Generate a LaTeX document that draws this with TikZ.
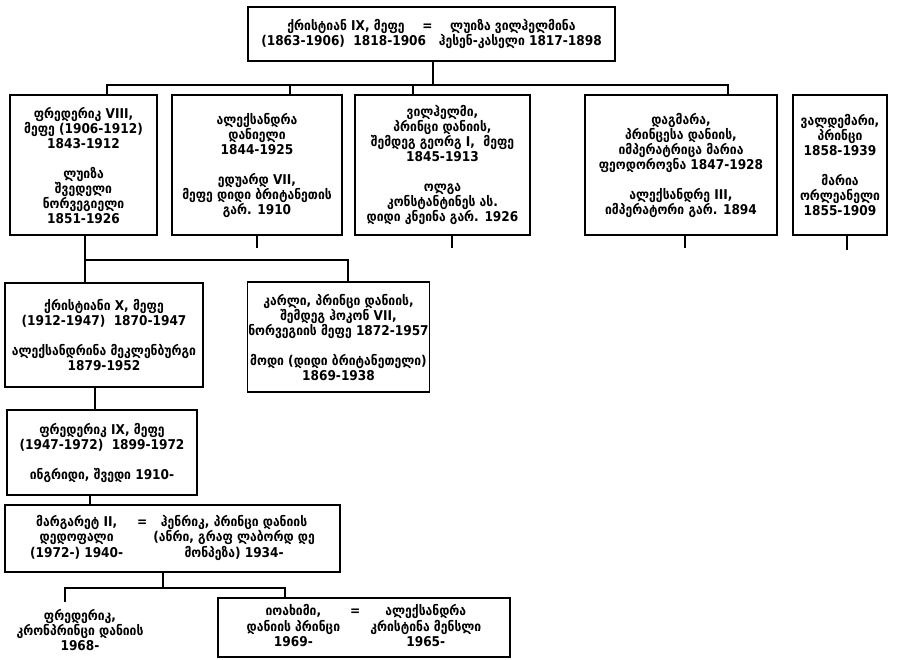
\documentclass[tikz,border=0pt]{standalone}
\usepackage{fontspec}
\setmainfont{DejaVu Sans Condensed}
\usepackage{tikz}

\tikzset{
  pbox/.style={draw, line width=1.4pt, align=center, inner sep=1pt,
               font=\fontsize{13.5}{15}\selectfont\bfseries},
  plain/.style={align=center, font=\fontsize{13.5}{15}\selectfont\bfseries},
  link/.style={line width=1.1pt}
}
\newcommand{\gap}{\\[15pt]}

\begin{document}
\begin{tikzpicture}[x=1pt,y=-1pt]
  \useasboundingbox (0,0) rectangle (905,659);

  % topo
  \node[pbox, minimum width=367, minimum height=54] (top) at (431.5,34)
    {ქრისტიან IX, მეფე \quad = \quad ლუიზა ვილჰელმინა\\
     (1863-1906)\ \ 1818-1906\ \ \ ჰესენ-კასელი 1817-1898};

  % filhos
  \node[pbox, minimum width=147, minimum height=140] (b1) at (83.5,165)
    {ფრედერიკ VIII,\\ მეფე (1906-1912)\\ 1843-1912\gap
     ლუიზა\\ შვედელი\\ ნორვეგიელი\\ 1851-1926};
  \node[pbox, minimum width=170, minimum height=140] (b2) at (257,165)
    {ალექსანდრა\\ დანიელი\\ 1844-1925\gap
     ედუარდ VII,\\ მეფე დიდი ბრიტანეთის\\ გარ. 1910};
  \node[pbox, minimum width=175, minimum height=140] (b3) at (442.5,165)
    {ვილჰელმი,\\ პრინცი დანიის,\\ შემდეგ გეორგ I,\ \ მეფე\\ 1845-1913\gap
     ოლგა\\ კონსტანტინეს ას.\\ დიდი კნეინა გარ. 1926};
  \node[pbox, minimum width=192, minimum height=140] (b4) at (681,165)
    {დაგმარა,\\ პრინცესა დანიის,\\ იმპერატრიცა მარია\\ ფეოდოროვნა 1847-1928\gap
     ალექსანდრე III,\\ იმპერატორი გარ. 1894};
  \node[pbox, minimum width=94, minimum height=140] (b5) at (840,165)
    {ვალდემარი,\\ პრინცი\\ 1858-1939\gap
     მარია\\ ორლეანელი\\ 1855-1909};

  % netos
  \node[pbox, minimum width=198, minimum height=104] (c1) at (104,335)
    {ქრისტიანი X, მეფე\\ (1912-1947)\ \ 1870-1947\gap
     ალექსანდრინა მეკლენბურგი\\ 1879-1952};
  \node[pbox, minimum width=177, minimum height=110] (c2) at (338.5,337)
    {კარლი, პრინცი დანიის,\\ შემდეგ ჰოკონ VII,\\ ნორვეგიის მეფე 1872-1957\gap
     მოდი (დიდი ბრიტანეთელი)\\ 1869-1938};

  \node[pbox, minimum width=190, minimum height=85] (d1) at (102,452.5)
    {ფრედერიკ IX, მეფე\\ (1947-1972)\ \ 1899-1972\gap
     ინგრიდი, შვედი 1910-};

  \node[pbox, minimum width=335, minimum height=67] (e1) at (172.5,538.5)
    {\begin{tabular}{@{}c@{\hspace{14pt}}c@{\hspace{6pt}}c@{}}
       მარგარეტ II, & = & ჰენრიკ, პრინცი დანიის\\
       დედოფალი & & (ანრი, გრაფ ლაბორდ დე\\
       (1972-) 1940- & & მონპეზა) 1934-
     \end{tabular}};

  \node[plain] (f1) at (80,630)
    {ფრედერიკ,\\ კრონპრინცი დანიის\\ 1968-};
  \node[pbox, minimum width=292, minimum height=59] (f2) at (364,627.5)
    {\begin{tabular}{@{}c@{\hspace{10pt}}c@{\hspace{10pt}}c@{}}
       იოახიმი, & = & ალექსანდრა\\
       დანიის პრინცი & & კრისტინა მენსლი\\
       1969- & & 1965-
     \end{tabular}};

  % ligações
  \coordinate (j0) at (433,85);
  \coordinate (l0) at (107,85);
  \coordinate (r0) at (728,85);
  \coordinate (k2) at (290,85);
  \coordinate (k3) at (413,85);
  \draw[link] (top.south -| j0) -- (j0);
  \draw[link] (l0 |- b1.north) -- (l0) -- (r0) -- (r0 |- b4.north);
  \draw[link] (k2) -- (k2 |- b2.north);
  \draw[link] (k3) -- (k3 |- b3.north);

  \coordinate (s2) at (257,248);
  \coordinate (s3) at (452,248);
  \coordinate (s4) at (685,248);
  \coordinate (s5) at (847,250);
  \foreach \s/\b in {s2/b2,s3/b3,s4/b4,s5/b5}
    \draw[link] (\s |- \b.south) -- (\s);

  \coordinate (m1) at (85,260);
  \coordinate (m2) at (348,260);
  \draw[link] (m1 |- b1.south) -- (m1 |- c1.north);
  \draw[link] (m1) -- (m2) -- (m2 |- c2.north);

  \coordinate (n1) at (95,400);
  \draw[link] (n1 |- c1.south) -- (n1 |- d1.north);
  \coordinate (n2) at (90,500);
  \draw[link] (n2 |- d1.south) -- (n2 |- e1.north);

  \coordinate (q0) at (163,588);
  \coordinate (q1) at (65,588);
  \coordinate (q2) at (285,588);
  \coordinate (q3) at (65,602);
  \draw[link] (q0 |- e1.south) -- (q0);
  \draw[link] (q3) -- (q1) -- (q2) -- (q2 |- f2.north);

\end{tikzpicture}
\end{document}
